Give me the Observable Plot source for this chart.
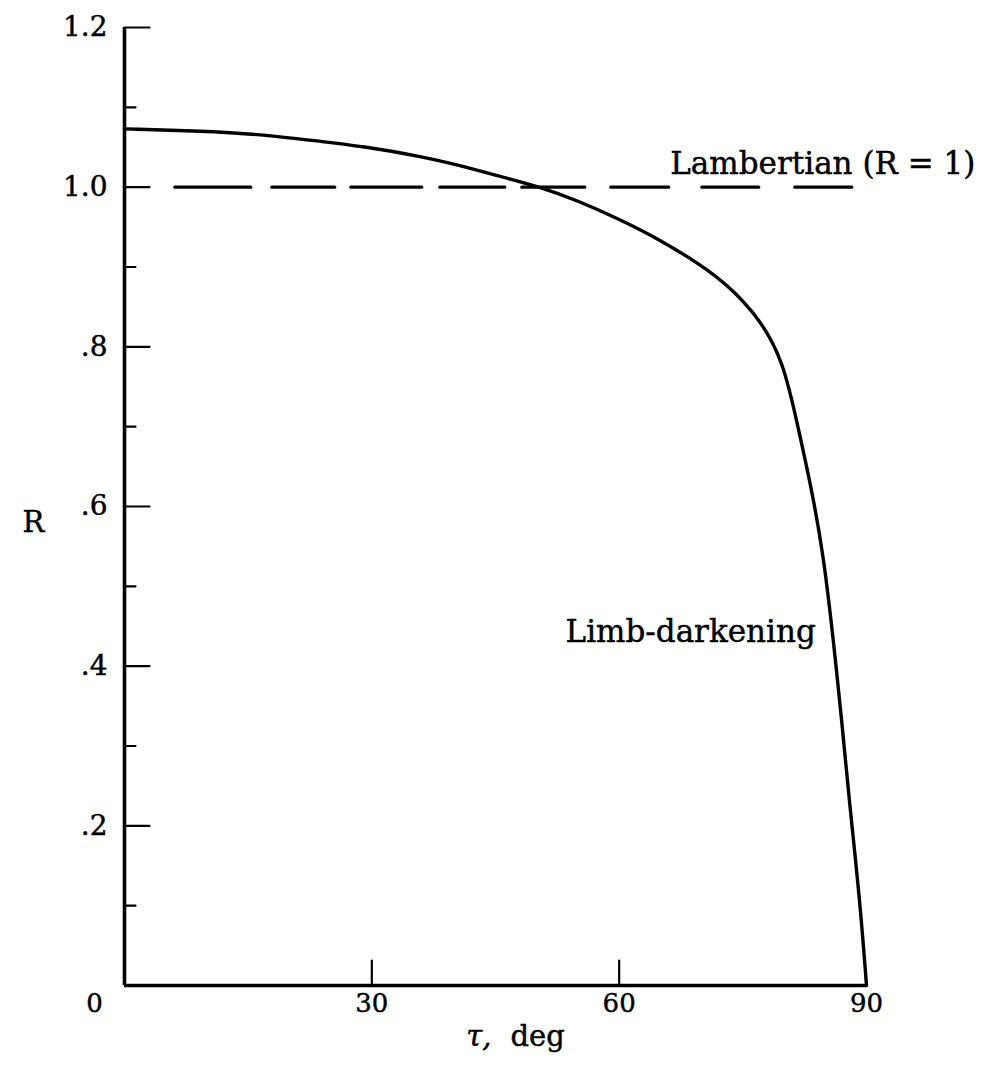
<!DOCTYPE html>
<html>
<head>
<meta charset="utf-8">
<script src="https://cdn.jsdelivr.net/npm/d3@7"></script>
<script src="https://cdn.jsdelivr.net/npm/@observablehq/plot@0.6"></script>
<style>
  html, body { margin: 0; padding: 0; background: #fff; }
  #chart svg { display: block; }
  #chart svg text { stroke: #000; stroke-width: 0.45px; }
</style>
</head>
<body>
<div id="chart"></div>
<script>
// Limb-darkening curve
const tau = [0, 10, 15, 20, 30, 36, 40, 45, 50.5, 55, 60, 65, 70, 73.1, 77.1, 79.9, 81.6, 83.2, 84.7, 85.9, 87.0, 87.9, 89.2, 90];
const rLimb = [1.073, 1.070, 1.067, 1.062, 1.050, 1.038, 1.029, 1.015, 1.000, 0.983, 0.960, 0.934, 0.902, 0.878, 0.835, 0.782, 0.704, 0.629, 0.545, 0.441, 0.332, 0.232, 0.107, 0.0];

// Lambertian reference (R = 1), drawn over this tau span
const lambertTau = [6.1, 88.4];
const lambertR = 1;

// Axis ticks and labels
const yMajor = [0.2, 0.4, 0.6, 0.8, 1.0, 1.2];
const yTickLabels = [".2", ".4", ".6", ".8", "1.0", "1.2"];
const yMinor = [0.1, 0.3, 0.5, 0.7, 0.9, 1.1];
const xMajor = [30, 60];
const xTickValues = [30, 60, 90];
const xTickLabels = ["30", "60", "90"];
const originLabel = "0";

const limbData = tau.map((t, i) => ({tau: t, R: rLimb[i]}));
const lambertData = lambertTau.map(t => ({tau: t, R: lambertR}));
const yLabelMap = new Map(yMajor.map((v, i) => [v, yTickLabels[i]]));
const xLabelMap = new Map(xTickValues.map((v, i) => [v, xTickLabels[i]]));

const tickShape = {draw(ctx, l) { ctx.moveTo(0, 0); ctx.lineTo(0, -l); }};

const serif = "'DejaVu Serif', serif";

const plot = Plot.plot({
  width: 999,
  height: 1065,
  marginLeft: 124,
  marginRight: 133,
  marginTop: 27,
  marginBottom: 80,
  style: {fontFamily: serif, fontSize: "26px", color: "#000", background: "#fff"},
  x: {domain: [0, 90]},
  y: {domain: [0, 1.2]},
  marks: [
    // axes lines
    Plot.ruleX([0], {y1: 0, y2: 1.2, strokeWidth: 3.6, stroke: "#000"}),
    Plot.ruleY([0], {x1: 0, x2: 90, strokeWidth: 3.6, stroke: "#000"}),
    // inward tick marks
    Plot.vector(yMajor, {x: 0, y: d => d, length: 25, rotate: 90, anchor: "start", shape: tickShape, strokeWidth: 2.2, stroke: "#000"}),
    Plot.vector(yMinor, {x: 0, y: d => d, length: 11, rotate: 90, anchor: "start", shape: tickShape, strokeWidth: 2.2, stroke: "#000"}),
    Plot.vector(xMajor, {x: d => d, y: 0, length: 25, rotate: 0, anchor: "start", shape: tickShape, strokeWidth: 2.2, stroke: "#000"}),
    // tick labels
    Plot.axisY({ticks: yMajor, tickSize: 0, tickPadding: 17, tickFormat: d => yLabelMap.get(d), fontSize: 28, label: null}),
    Plot.axisX({ticks: xTickValues, tickSize: 0, tickPadding: 8, tickFormat: d => xLabelMap.get(d), fontSize: 26, label: null}),
    Plot.text([originLabel], {x: 0, y: 0, text: d => d, dx: -30, dy: 8, lineAnchor: "top", fontSize: 26}),
    // axis titles
    Plot.text(["R"], {frameAnchor: "left", dx: -102, dy: 16, text: d => d, fontSize: 29}),
    Plot.text(["\u03C4,"], {frameAnchor: "bottom", dx: -4, dy: 60, text: d => d, textAnchor: "end", fontStyle: "italic", fontSize: 29}),
    Plot.text(["deg"], {frameAnchor: "bottom", dx: 15, dy: 60, text: d => d, textAnchor: "start", fontSize: 29}),
    // Lambertian dashed line
    Plot.line(lambertData, {x: "tau", y: "R", stroke: "#000", strokeWidth: 3.2, strokeDasharray: "76,21,63,16,71,18,65,17,63,26,58,33,57,36,57"}),
    // Limb-darkening curve
    Plot.line(limbData, {x: "tau", y: "R", stroke: "#000", strokeWidth: 3.4, curve: "basis"}),
    // annotations
    Plot.text(["Lambertian (R = 1)"], {x: 66.2, y: 1.0, text: d => d, textAnchor: "start", lineAnchor: "bottom", dy: -13, fontSize: 31}),
    Plot.text(["Limb-darkening"], {x: 53.5, y: 0.43, text: d => d, textAnchor: "start", lineAnchor: "bottom", dy: 0, fontSize: 31})
  ]
});

document.getElementById("chart").appendChild(plot);
</script>
</body>
</html>
